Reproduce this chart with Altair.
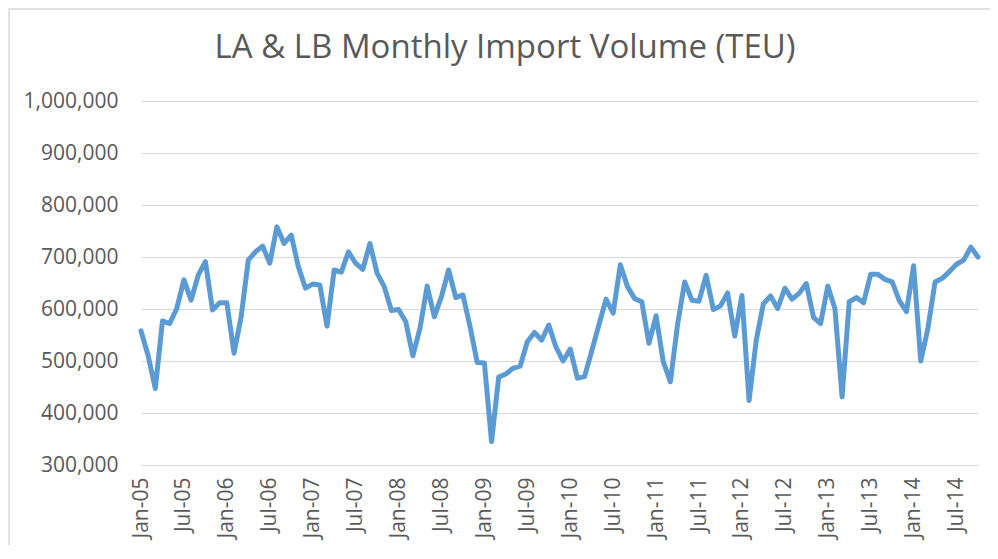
import altair as alt
import pandas as pd

title_text = "LA & LB Monthly Import Volume (TEU)"

# Monthly categories Jan-05 .. Oct-14
months = pd.date_range("2005-01-01", periods=118, freq="MS").strftime("%b-%y").tolist()

# Import volume (TEU)
teu = [
    558000, 510000, 447000, 577000, 572000, 601000, 656000, 617000, 665000, 691000, 598000, 612000,
    612000, 515000, 585000, 694000, 710000, 721000, 688000, 758000, 726000, 742000, 681000, 640000,
    648000, 646000, 567000, 675000, 671000, 710000, 688000, 676000, 726000, 669000, 643000, 597000,
    599000, 576000, 510000, 563000, 644000, 585000, 624000, 675000, 622000, 627000, 566000, 497000,
    496000, 345000, 469000, 475000, 486000, 490000, 537000, 555000, 540000, 569000, 527000, 500000,
    523000, 467000, 470000, 519000, 569000, 619000, 592000, 685000, 643000, 620000, 614000, 534000,
    587000, 499000, 460000, 570000, 652000, 617000, 615000, 665000, 599000, 606000, 631000, 548000,
    626000, 424000, 540000, 610000, 625000, 601000, 640000, 619000, 630000, 649000, 584000, 572000,
    644000, 601000, 431000, 614000, 622000, 612000, 667000, 667000, 657000, 652000, 616000, 595000,
    683000, 500000, 563000, 652000, 659000, 672000, 686000, 694000, 719000, 700000,
]

y_ticks = [300000, 400000, 500000, 600000, 700000, 800000, 900000, 1000000]
x_ticks = [m for m in months if m.startswith("Jan") or m.startswith("Jul")]

df = pd.DataFrame({"month": months, "teu": teu})

FONT = "Open Sans"
GRAY = "#595959"
GRID = "#d9d9d9"

line = alt.Chart(df).mark_line(
    color="#5B9BD5", strokeWidth=5, strokeJoin="round", strokeCap="round"
).encode(
    x=alt.X(
        "month:O",
        sort=None,
        scale=alt.Scale(type="point", padding=0),
        axis=alt.Axis(
            values=x_ticks, labelAngle=-90, ticks=False, grid=False,
            domainColor=GRID, domainWidth=1,
            labelFont=FONT, labelFontSize=21, labelColor=GRAY,
            labelPadding=12, title=None,
        ),
    ),
    y=alt.Y(
        "teu:Q",
        scale=alt.Scale(domain=[300000, 1000000], nice=False, zero=False),
        axis=alt.Axis(
            values=y_ticks, format=",.0f", ticks=False, domain=False,
            grid=True, gridColor=GRID, gridWidth=1,
            labelFont=FONT, labelFontSize=21, labelColor=GRAY,
            labelPadding=23, title=None,
        ),
    ),
)

title = alt.Chart(pd.DataFrame({"t": [title_text]})).mark_text(
    font=FONT, fontSize=33, color=GRAY, align="center", baseline="alphabetic"
).encode(
    text="t:N",
    x=alt.value(364),
    y=alt.value(-43),
)

border = alt.Chart(pd.DataFrame({"b": [0]})).mark_rect(
    fillOpacity=0, stroke=GRID, strokeWidth=1.5
).encode(
    x=alt.value(-132),
    x2=alt.value(2000),
    y=alt.value(-92),
    y2=alt.value(2000),
)

chart = alt.layer(border, line, title).properties(
    width=837,
    height=364,
    padding={"left": 133, "top": 93, "right": 12, "bottom": 80},
    autosize=alt.AutoSizeParams(type="none"),
).configure_view(stroke=None)

chart.save("out.html", embed_options={"renderer": "svg", "actions": False})
